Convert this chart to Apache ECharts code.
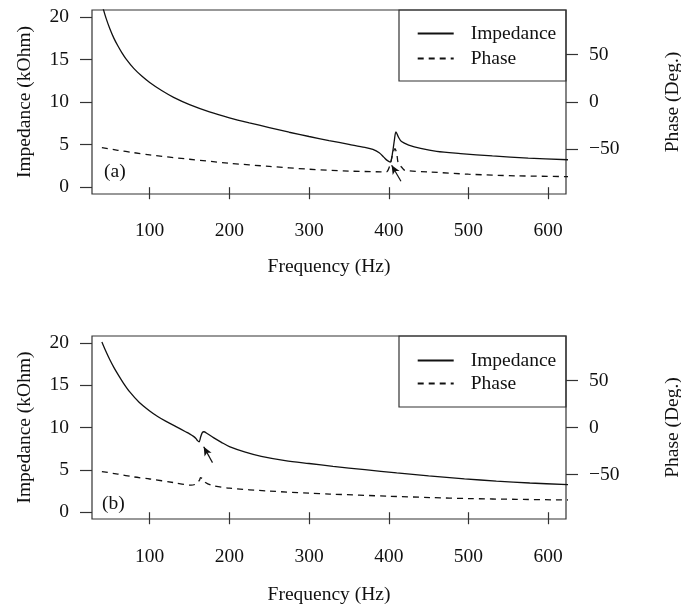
<!DOCTYPE html>
<html>
<head>
<meta charset="utf-8">
<script src="https://cdn.jsdelivr.net/npm/echarts@6/dist/echarts.min.js"></script>
<style>
  html, body { margin: 0; padding: 0; background: #fff; }
  #chart { width: 681px; height: 605px; }
</style>
</head>
<body>
<div id="chart"></div>
<script>
// ---------- data ----------
// Panel (a): impedance (kOhm) vs frequency (Hz)
const freqImpA = [40, 45, 50, 55, 60, 65, 70, 80, 90, 100, 115, 130, 150, 175, 200, 225, 250, 275, 300, 325, 350, 370, 380, 388, 394, 398, 402, 405, 407, 409, 412, 416, 425, 440, 460, 490, 530, 575, 625];
const impedanceA = [21.5, 19.9, 18.6, 17.5, 16.6, 15.8, 15.1, 13.95, 13.05, 12.3, 11.35, 10.55, 9.7, 8.85, 8.15, 7.55, 7.0, 6.45, 5.95, 5.47, 5.03, 4.68, 4.45, 4.05, 3.5, 3.15, 2.95, 4.2, 5.5, 6.5, 5.9, 5.35, 4.95, 4.55, 4.2, 3.95, 3.67, 3.42, 3.22];
// Panel (a): phase (deg) vs frequency (Hz)
const freqPhaseA = [40, 60, 80, 100, 150, 200, 250, 300, 350, 390, 397, 401.5, 404.5, 407.8, 410, 412, 416, 420, 452, 500, 560, 625];
const phaseA = [-48.2, -51, -53.5, -55.9, -60.5, -64.7, -68, -71, -73, -73.8, -73.9, -66.8, -56.3, -49.2, -54.5, -65, -68.6, -72.1, -73.9, -76.3, -78, -78.8];

// Panel (b): impedance (kOhm) vs frequency (Hz)
const freqImpB = [40, 45, 50, 55, 60, 67, 75, 87, 100, 110, 120, 133, 145, 150, 155, 158, 160, 162, 164, 166, 168, 172, 180, 190, 200, 220, 240, 270, 300, 330, 370, 410, 450, 495, 535, 577, 625];
const impedanceB = [20.1, 19.0, 18.0, 17.1, 16.3, 15.25, 14.2, 12.95, 11.95, 11.3, 10.75, 10.1, 9.5, 9.25, 8.95, 8.7, 8.45, 8.3, 8.9, 9.4, 9.5, 9.3, 8.8, 8.25, 7.75, 7.1, 6.6, 6.1, 5.75, 5.42, 5.02, 4.64, 4.28, 3.94, 3.68, 3.45, 3.25];
// Panel (b): phase (deg) vs frequency (Hz)
const freqPhaseB = [40, 60, 80, 100, 130, 152, 158, 162.5, 163.7, 167, 170, 177.5, 200, 250, 300, 326, 400, 452, 500, 560, 625];
const phaseB = [-46.8, -49.5, -52.5, -54.7, -58.5, -61.3, -60, -56, -53.2, -55, -58.5, -61.3, -64.5, -67.5, -69.8, -70.7, -73, -74.4, -75.5, -76.3, -77];

// Arrow annotations in data space [frequency, impedance]: tail -> head
const arrowA = [[415.3, 0.7], [403.6, 2.58]];
const arrowB = [[178.8, 5.85], [167.8, 7.73]];

// Tick labels
const freqTicks = [100, 200, 300, 400, 500, 600];
const impTicks = [0, 5, 10, 15, 20];
const phaseTicks = [-50, 0, 50];
const seriesNames = ['Impedance', 'Phase'];
const panelLabels = ['(a)', '(b)'];

// ---------- chart ----------
const FONT = '"Liberation Serif", "Times New Roman", serif';
const FS = 19.5;
const INK = '#111';
const txt = { fontFamily: FONT, fontSize: FS, color: INK };

function zip(xs, ys) { return xs.map((x, i) => [x, ys[i]]); }
function fmt(v) { return v < 0 ? '\u2212' + Math.abs(v) : String(v); }

const grids = [
  { left: 92, top: 10, width: 474, height: 184 },
  { left: 92, top: 336, width: 474, height: 183 }
];

function xAxisFor(gi, nameGap, labelMargin) {
  return {
    type: 'value', gridIndex: gi, min: 27.6, max: 622.4,
    name: 'Frequency (Hz)', nameLocation: 'middle', nameGap: nameGap,
    nameTextStyle: txt,
    axisLine: { show: false },
    axisTick: { show: true, inside: false, length: 12, customValues: freqTicks, lineStyle: { color: '#333', width: 1.2 } },
    axisLabel: { customValues: freqTicks, margin: labelMargin, formatter: fmt, ...txt },
    splitLine: { show: false }
  };
}
function impAxisFor(gi) {
  return {
    type: 'value', gridIndex: gi, position: 'left', min: -0.8, max: 20.8,
    name: 'Impedance (kOhm)', nameLocation: 'middle', nameRotate: 90, nameGap: 57,
    nameTextStyle: txt,
    axisLine: { show: false },
    axisTick: { show: true, inside: false, length: 12, customValues: impTicks, lineStyle: { color: '#333', width: 1.2 } },
    axisLabel: { customValues: impTicks, margin: 23, formatter: fmt, ...txt },
    splitLine: { show: false }
  };
}
function phaseAxisFor(gi) {
  return {
    type: 'value', gridIndex: gi, position: 'right', min: -97.2, max: 97.2,
    name: 'Phase (Deg.)', nameLocation: 'middle', nameRotate: 90, nameGap: 97,
    nameTextStyle: txt,
    axisLine: { show: false },
    axisTick: { show: true, inside: false, length: 12, customValues: phaseTicks, lineStyle: { color: '#333', width: 1.2 } },
    axisLabel: { customValues: phaseTicks, margin: 23, formatter: fmt, ...txt },
    splitLine: { show: false }
  };
}

function arrowLine(arrow) {
  return {
    silent: true,
    symbol: ['none', 'arrow'],
    symbolSize: [6, 9],
    label: { show: false },
    lineStyle: { color: INK, width: 1.2, type: 'solid' },
    emphasis: { disabled: true },
    data: [[{ coord: arrow[0] }, { coord: arrow[1] }]]
  };
}

function impSeries(xi, yi, data, arrow) {
  return {
    name: seriesNames[0], type: 'line', xAxisIndex: xi, yAxisIndex: yi,
    data: data, showSymbol: false, symbol: 'none', clip: true, smooth: 0.3,
    lineStyle: { color: INK, width: 1.3, type: 'solid' },
    itemStyle: { color: INK },
    markLine: arrowLine(arrow)
  };
}
function phaseSeries(xi, yi, data) {
  return {
    name: seriesNames[1], type: 'line', xAxisIndex: xi, yAxisIndex: yi,
    data: data, showSymbol: false, symbol: 'none', clip: true, smooth: 0.3,
    lineStyle: { color: INK, width: 1.3, type: [6, 5] },
    itemStyle: { color: INK }
  };
}

function legendFor(top, gap) {
  return {
    data: seriesNames, orient: 'vertical', left: 416.7, top: top, padding: 0,
    itemWidth: 36, itemHeight: 14, itemGap: gap, selectedMode: false,
    itemStyle: { opacity: 0 },
    textStyle: { fontFamily: FONT, fontSize: FS, color: INK, lineHeight: 20, padding: [0, 0, 0, 12] }
  };
}

const option = {
  animation: false,
  backgroundColor: '#fff',
  grid: grids.map(g => ({ ...g, show: true, borderColor: '#333', borderWidth: 1.2, backgroundColor: 'transparent', containLabel: false, outerBoundsMode: 'none' })),
  xAxis: [xAxisFor(0, 63, 27), xAxisFor(1, 66, 28)],
  yAxis: [impAxisFor(0), phaseAxisFor(0), impAxisFor(1), phaseAxisFor(1)],
  legend: [legendFor(23.5, 5), legendFor(350.5, 3)],
  series: [
    impSeries(0, 0, zip(freqImpA, impedanceA), arrowA),
    phaseSeries(0, 1, zip(freqPhaseA, phaseA)),
    impSeries(1, 2, zip(freqImpB, impedanceB), arrowB),
    phaseSeries(1, 3, zip(freqPhaseB, phaseB))
  ],
  graphic: [
    { type: 'rect', shape: { x: 399, y: 10, width: 167, height: 71 }, style: { fill: 'none', stroke: '#333', lineWidth: 1.2 }, silent: true },
    { type: 'rect', shape: { x: 399, y: 336, width: 167, height: 71 }, style: { fill: 'none', stroke: '#333', lineWidth: 1.2 }, silent: true },
    { type: 'text', x: 104, y: 171.5, style: { text: panelLabels[0], font: FS + 'px ' + FONT, fill: INK, verticalAlign: 'middle' }, silent: true },
    { type: 'text', x: 102, y: 503.5, style: { text: panelLabels[1], font: FS + 'px ' + FONT, fill: INK, verticalAlign: 'middle' }, silent: true }
  ]
};

const chart = echarts.init(document.getElementById('chart'), null, { renderer: 'canvas' });
chart.setOption(option);
</script>
</body>
</html>
